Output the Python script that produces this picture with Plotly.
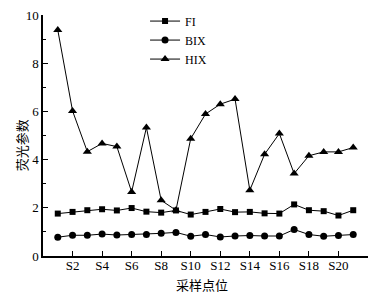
import plotly.graph_objects as go

samples = [f"S{i}" for i in range(1, 22)]
x_pos = list(range(1, 22))
fi = [1.76, 1.83, 1.90, 1.94, 1.89, 1.99, 1.84, 1.80, 1.89, 1.72, 1.83, 1.95, 1.82, 1.83, 1.77, 1.76, 2.14, 1.90, 1.86, 1.68, 1.90]
bix = [0.78, 0.86, 0.86, 0.91, 0.87, 0.89, 0.89, 0.94, 0.98, 0.82, 0.89, 0.79, 0.83, 0.85, 0.83, 0.83, 1.10, 0.89, 0.82, 0.85, 0.89]
hix = [9.38, 6.02, 4.33, 4.67, 4.54, 2.66, 5.33, 2.31, 1.90, 4.87, 5.89, 6.30, 6.51, 2.73, 4.22, 5.08, 3.42, 4.16, 4.32, 4.32, 4.50]
tick_vals = [2, 4, 6, 8, 10, 12, 14, 16, 18, 20, 22]
tick_text = [f"S{v}" for v in tick_vals[:-1]] + [""]

serif = "Liberation Serif"
cjk = "Noto Sans CJK SC"

fig = go.Figure()
for name, vals, sym, sz in [("FI", fi, "square", 6), ("BIX", bix, "circle", 7), ("HIX", hix, "triangle-up", 8)]:
    fig.add_trace(go.Scatter(
        x=x_pos, y=vals, name=name, mode="lines+markers",
        line=dict(color="black", width=1),
        marker=dict(symbol=sym, size=sz, color="black"),
    ))

fig.update_layout(
    width=381, height=295,
    margin=dict(l=43, r=13, t=15, b=39, autoexpand=False),
    paper_bgcolor="white", plot_bgcolor="white",
    font=dict(family=serif, size=13, color="black"),
    showlegend=True,
    legend=dict(x=0.314, y=1.035, xanchor="left", yanchor="top",
                bgcolor="rgba(0,0,0,0)", font=dict(family=serif, size=12),
                itemwidth=30, tracegroupgap=0),
    xaxis=dict(range=[0, 22], tickvals=tick_vals, ticktext=tick_text,
               showgrid=False, zeroline=False, showline=True, linecolor="black", linewidth=1.5,
               ticks="inside", ticklen=5, tickcolor="black", automargin=False,
               ticklabelstandoff=-3,
               tickfont=dict(family=serif, size=13)),
    yaxis=dict(range=[0, 10], tickvals=[0, 2, 4, 6, 8, 10],
               showgrid=False, zeroline=False, showline=True, linecolor="black", linewidth=1.5,
               ticks="inside", ticklen=5, tickcolor="black", automargin=False,
               minor=dict(tickvals=[1, 3, 5, 7, 9], ticks="inside", ticklen=3, tickcolor="black"),
               tickfont=dict(family=serif, size=13)),
    annotations=[
        dict(text="采样点位", xref="paper", yref="paper", x=0.49, y=0, yshift=-28,
             xanchor="center", yanchor="middle", showarrow=False,
             font=dict(family=cjk, size=13)),
        dict(text="荧光参数", xref="paper", yref="paper", x=0, y=0.46, xshift=-22,
             xanchor="center", yanchor="middle", textangle=-90, showarrow=False,
             font=dict(family=cjk, size=13)),
    ],
)

fig.write_html("out.html", config={"displayModeBar": False},
               post_script="document.body.style.margin='0';")
